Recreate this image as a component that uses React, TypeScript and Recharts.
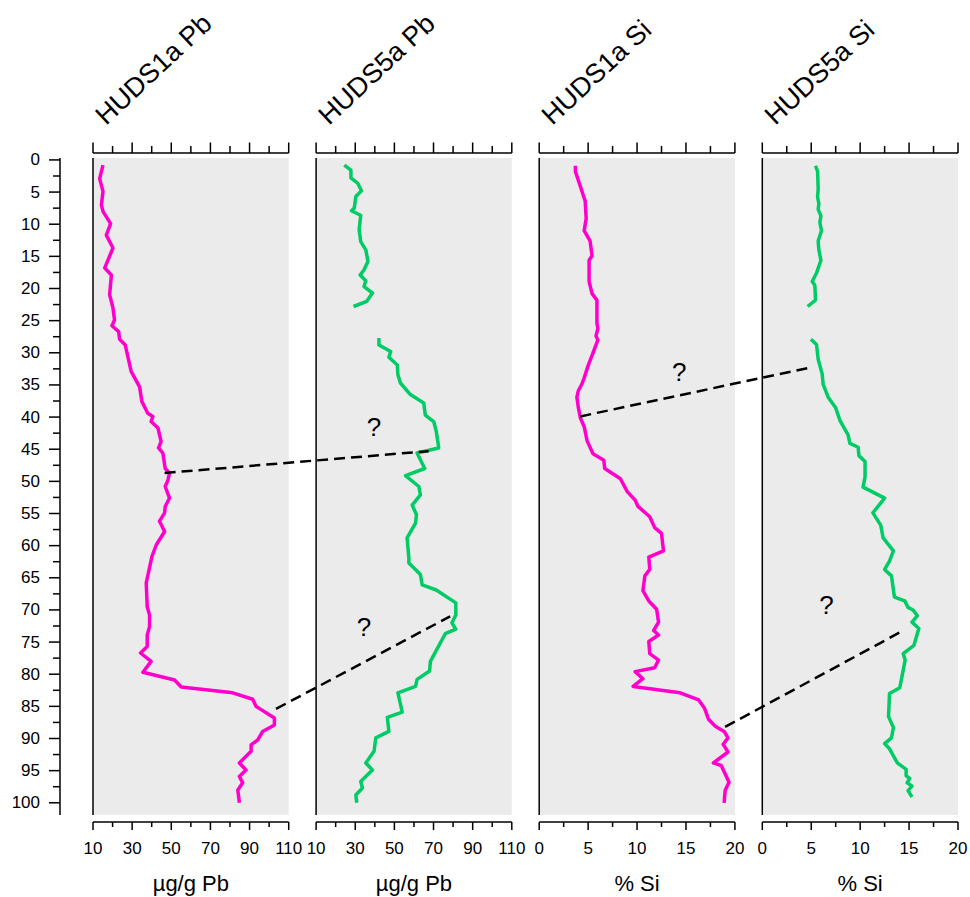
import React from "react";
import { ComposedChart, Line, XAxis, YAxis, ReferenceArea, ReferenceLine, Scatter } from "recharts";

// depth (cm), value
const HUDS1A_PB: [number, number][] = [
  [0.8, 15.1], [2.9, 13.4], [4.9, 15.1], [7, 14.3], [8, 15.1], [9.9, 19], [11.7, 16.8], [13.7, 20.2],
  [16.8, 16], [17.9, 19.4], [21, 18.5], [23, 20.2], [24.9, 21], [25.8, 19.7], [26.7, 23.1], [27.9, 23.6],
  [28.8, 26.5], [32.9, 29.5], [35.3, 33.8], [37.6, 35], [39.4, 38], [39.9, 40.6], [40.7, 39.7], [41.7, 43.2],
  [43.8, 44.8], [44.8, 43.5], [45.6, 45.7], [48, 46.9], [48.7, 49.1], [49.8, 48.3], [50.8, 46.9], [52.6, 49.1],
  [53.9, 46.9], [54.9, 46.6], [56.2, 44], [57.8, 46.6], [59.9, 42.3], [61.7, 40.1], [65.8, 37.2], [69.5, 37.7],
  [70.8, 38.9], [72.6, 38.9], [73.9, 37.7], [75.7, 37.7], [76.7, 34.3], [78, 39.7], [79.7, 35.5], [80.9, 51.7],
  [82, 55.1], [82.9, 81.4], [83.9, 91.6], [85, 93.3], [86.8, 102.7], [87.9, 102.7], [88.9, 96.7], [90.2, 94.2],
  [91, 90.8], [92, 90.8], [93.8, 84.8], [94.9, 88.2], [95.9, 84.8], [96.9, 86.5], [98, 84], [100, 84.8],
];

const HUDS5A_PB_UPPER: [number, number][] = [
  [0.8, 24.4], [1.6, 27.8], [2.8, 27.8], [3.6, 31.2], [4.8, 33.2], [5.7, 30.3], [7.5, 29.5], [7.9, 28.1],
  [8.6, 32.8], [10.9, 32], [12.7, 32.8], [14, 35.4], [15.8, 36.5], [17.1, 34.5], [17.9, 32.5], [18.8, 35.4],
  [19.7, 34.5], [20.7, 38.8], [22, 35.9], [22.8, 29.1],
];

const HUDS5A_PB_LOWER: [number, number][] = [
  [27.7, 42.1], [28.8, 42.1], [29.8, 48.1], [30.7, 47.2], [31.9, 51.5], [33.4, 51.8], [34.7, 53.1], [36.5, 58.2],
  [37.8, 65], [39.7, 65.8], [40.7, 70.1], [42.2, 71.4], [44.6, 72.6], [44.8, 72.6], [45.6, 61.6], [48, 65.5],
  [49.1, 55.7], [50.8, 62.5], [52.1, 63.3], [53.7, 59.1], [55.2, 61.3], [56.5, 60.8], [58.8, 56.5], [61.9, 57.4],
  [62.7, 57.4], [64.5, 63.3], [66.1, 64.2], [66.9, 71.4], [68.9, 81.4], [70.8, 81.4], [72, 79.4], [73, 81.4],
  [73.7, 76], [78, 68.4], [79.5, 68], [80.8, 61.6], [81.9, 60.8], [82.9, 51.8], [85.9, 54], [86.7, 46.4],
  [88.9, 47.2], [89.9, 40.5], [92, 39.6], [93.8, 35.4], [94.9, 38.8], [96.7, 32.8], [97.7, 33.7], [98.8, 30.3],
  [100, 30.8],
];

const HUDS1A_SI: [number, number][] = [
  [0.9, 3.7], [1.8, 3.7], [4.1, 4.2], [6.4, 4.7], [9.1, 4.8], [11, 4.6], [12.6, 5.2], [14.9, 5.4],
  [15.6, 5.1], [18.9, 5.1], [20.8, 5.4], [21.8, 5.9], [25.4, 5.9], [26.2, 6.0], [27.4, 5.8], [28, 6.0],
  [30, 5.5], [32, 5.0], [33.9, 4.6], [34.9, 4.35], [35.9, 4.0], [36.9, 3.85], [38.5, 4.0], [40.1, 4.2],
  [41.5, 4.6], [43.7, 4.9], [45.7, 5.5], [46.7, 6.6], [48, 6.7], [49.6, 8.3], [51.6, 9.0], [52.9, 9.8],
  [53.9, 10.1], [55.5, 11.3], [57.2, 11.8], [58.1, 12.5], [60.8, 12.7], [61.8, 11.2], [63.7, 11.3], [64.7, 10.8],
  [67, 10.6], [68.6, 11.2], [69.9, 12.0], [71.9, 12.2], [73.2, 11.7], [73.9, 12.2], [74.9, 11.2], [76.8, 11.3],
  [77.8, 12.2], [79, 11.8], [79.6, 9.8], [80.7, 10.6], [81.9, 9.6], [82.9, 14.4], [84, 16.3], [85.3, 16.9],
  [87, 17.3], [88.1, 18.0], [88.9, 18.9], [89.9, 19.3], [90.9, 18.8], [92.1, 19.3], [93.8, 17.8], [94.2, 18.6],
  [95.5, 19.0], [96.8, 19.4], [98.1, 19.0], [100, 18.9],
];

const HUDS5A_SI_UPPER: [number, number][] = [
  [0.9, 5.44], [1.8, 5.65], [4.5, 5.71], [5.8, 5.65], [6.8, 5.78], [7.7, 5.71], [8.7, 5.99], [9.7, 5.88],
  [11, 6.05], [12.6, 5.71], [14, 5.78], [15.6, 5.99], [17.6, 5.54], [18.9, 5.1], [19.5, 5.37], [21.8, 5.44],
  [22.8, 4.63],
];

const HUDS5A_SI_LOWER: [number, number][] = [
  [27.9, 4.97], [28.7, 5.54], [31, 5.71], [33.3, 6.12], [34.9, 6.22], [36.9, 6.73], [38.5, 7.48], [40.5, 7.93],
  [42.8, 8.78], [44.1, 8.95], [44.7, 9.8], [46, 9.87], [46.9, 10.5], [49.3, 10.5], [50.9, 10.3], [52.6, 12.5],
  [54.9, 11.3], [56.8, 12.1], [58.8, 12.35], [60.8, 13.4], [62.4, 13], [63.7, 12.5], [64.7, 13.2], [68, 13.5],
  [68.6, 14.56], [69.6, 14.9], [70, 15.4], [70.9, 15.85], [71.9, 15.3], [72.9, 16], [75.5, 15.5], [76.8, 14.4],
  [77.8, 14.6], [82.1, 14.05], [83, 13], [86.6, 12.9], [88.3, 13.4], [89.9, 13.2], [90.8, 12.5], [91.6, 13],
  [93.8, 13.8], [94.8, 14.7], [95.8, 14.7], [96.2, 15.07], [96.9, 14.8], [97.4, 15.3], [98.1, 14.9], [99.1, 15.3],
];

// dashed correlation links: [panel, depth, value]
const LINKS: [number, number, number][][] = [
  [[0, 48.7, 46.6], [1, 45.3, 67.5]],
  [[0, 85.4, 103.5], [1, 71, 78.5]],
  [[2, 39.9, 4.2], [3, 32.3, 4.87]],
  [[2, 88.2, 19.0], [3, 73.5, 14.05]],
];

const QUESTIONS: [number, number, number][] = [
  [1, 41.5, 39.6],
  [1, 72.6, 34.5],
  [2, 33, 14.3],
  [3, 69.3, 6.56],
];

const DEPTH_MAJOR = [0, 5, 10, 15, 20, 25, 30, 35, 40, 45, 50, 55, 60, 65, 70, 75, 80, 85, 90, 95, 100];
const DEPTH_MINOR = [2.5, 7.5, 12.5, 17.5, 22.5, 27.5, 32.5, 37.5, 42.5, 47.5, 52.5, 57.5, 62.5, 67.5, 72.5, 77.5, 82.5, 87.5, 92.5, 97.5];

const PB_MAJOR = [10, 30, 50, 70, 90, 110];
const PB_MINOR = [20, 40, 60, 80, 100];
const SI_MAJOR = [0, 5, 10, 15, 20];
const SI_MINOR = [2.5, 7.5, 12.5, 17.5];

const panels = [
  { title: "HUDS1a Pb", unit: "µg/g Pb", min: 10, max: 110, major: PB_MAJOR, minor: PB_MINOR },
  { title: "HUDS5a Pb", unit: "µg/g Pb", min: 10, max: 110, major: PB_MAJOR, minor: PB_MINOR },
  { title: "HUDS1a Si", unit: "% Si", min: 0, max: 20, major: SI_MAJOR, minor: SI_MINOR },
  { title: "HUDS5a Si", unit: "% Si", min: 0, max: 20, major: SI_MAJOR, minor: SI_MINOR },
];

const MAGENTA = "#ff00cc";
const GREEN = "#00cc66";
const FONT = "'Liberation Sans', Arial, sans-serif";

const W = 970;
const H = 897;
const PLOT_L = 93;
const PLOT_R = 958;
const PLOT_T = 158;
const PLOT_B = 815;
const SPAN = 100;
const STEP = 114;
const X_MAX = STEP * 3 + SPAN;
const PX = (PLOT_R - PLOT_L) / X_MAX;
const DEPTH_DOMAIN = [-0.3, 101.9];
const DEPTH_AXIS_X = 60;
const TOP_AXIS_Y = 153;
const BOT_AXIS_Y = 822;

const toVX = (panel: number, v: number) => {
  const p = panels[panel];
  return panel * STEP + ((v - p.min) * SPAN) / (p.max - p.min);
};

const toPoints = (panel: number, rows: [number, number][]) =>
  rows.map(([depth, v]) => ({ vx: toVX(panel, v), depth }));

const series = [
  { panel: 0, rows: HUDS1A_PB, color: MAGENTA },
  { panel: 1, rows: HUDS5A_PB_UPPER, color: GREEN },
  { panel: 1, rows: HUDS5A_PB_LOWER, color: GREEN },
  { panel: 2, rows: HUDS1A_SI, color: MAGENTA },
  { panel: 3, rows: HUDS5A_SI_UPPER, color: GREEN },
  { panel: 3, rows: HUDS5A_SI_LOWER, color: GREEN },
];

const xTicks = panels
  .flatMap((p, i) => [...p.major, ...p.minor].map((v) => toVX(i, v)))
  .sort((a, b) => a - b);

const locate = (vx: number) => {
  const i = Math.min(3, Math.floor((vx + 0.001) / STEP));
  const p = panels[i];
  const v = p.min + ((vx - i * STEP) * (p.max - p.min)) / SPAN;
  const value = Math.round(v * 100) / 100;
  return { i, p, value, major: p.major.includes(value), first: Math.abs(value - p.min) < 1e-6 };
};

function DepthTick(props: any) {
  const { payload } = props;
  const y = payload.coordinate;
  const v = payload.value;
  const major = DEPTH_MAJOR.includes(v);
  return (
    <g>
      {v === 0 && (
        <line x1={DEPTH_AXIS_X} x2={DEPTH_AXIS_X} y1={PLOT_T} y2={PLOT_B} stroke="#000" strokeWidth={1.5} />
      )}
      <line x1={DEPTH_AXIS_X - (major ? 11 : 7)} x2={DEPTH_AXIS_X} y1={y} y2={y} stroke="#000" strokeWidth={1.5} />
      {major && (
        <text x={40} y={y} textAnchor="end" dominantBaseline="central" fontSize={17} fontFamily={FONT} fill="#000">
          {v}
        </text>
      )}
    </g>
  );
}

function TopTick(props: any) {
  const { payload } = props;
  const x = payload.coordinate;
  const { p, major, first } = locate(payload.value);
  const tx = x + 13;
  const ty = 126;
  return (
    <g>
      {first && <line x1={x} x2={x + SPAN * PX} y1={TOP_AXIS_Y} y2={TOP_AXIS_Y} stroke="#000" strokeWidth={1.5} />}
      <line x1={x} x2={x} y1={TOP_AXIS_Y} y2={TOP_AXIS_Y - (major ? 10.5 : 7)} stroke="#000" strokeWidth={1.5} />
      {first && (
        <text x={tx} y={ty} transform={`rotate(-43 ${tx} ${ty})`} fontSize={27} fontFamily={FONT} fill="#000">
          {p.title}
        </text>
      )}
    </g>
  );
}

function BottomTick(props: any) {
  const { payload } = props;
  const x = payload.coordinate;
  const { p, value, major, first } = locate(payload.value);
  return (
    <g>
      {first && <line x1={x} x2={x + SPAN * PX} y1={BOT_AXIS_Y} y2={BOT_AXIS_Y} stroke="#000" strokeWidth={1.5} />}
      <line x1={x} x2={x} y1={BOT_AXIS_Y} y2={BOT_AXIS_Y + (major ? 8 : 5)} stroke="#000" strokeWidth={1.5} />
      {major && (
        <text x={x} y={848} textAnchor="middle" dominantBaseline="central" fontSize={17} fontFamily={FONT} fill="#000">
          {value}
        </text>
      )}
      {first && (
        <text
          x={x + (SPAN * PX) / 2}
          y={883}
          textAnchor="middle"
          dominantBaseline="central"
          fontSize={22}
          fontFamily={FONT}
          fill="#000"
        >
          {p.unit}
        </text>
      )}
    </g>
  );
}

const QuestionMark = (props: any) => (
  <text
    x={props.cx}
    y={props.cy}
    textAnchor="middle"
    dominantBaseline="central"
    fontSize={26}
    fontFamily={FONT}
    fill="#000"
  >
    ?
  </text>
);

export default function App() {
  const questionPoints = QUESTIONS.map(([panel, depth, v]) => ({ vx: toVX(panel, v), depth }));
  return (
    <div style={{ position: "absolute", left: 0, top: 0, width: W, height: H, background: "#fff" }}>
      <ComposedChart
        width={W}
        height={H}
        margin={{ top: PLOT_T - 5, right: W - PLOT_R, bottom: H - PLOT_B - 7, left: 0 }}
      >
        <XAxis
          xAxisId="top"
          orientation="top"
          type="number"
          dataKey="vx"
          domain={[0, X_MAX]}
          ticks={xTicks}
          interval={0}
          height={5}
          axisLine={false}
          tickLine={false}
          tickSize={0}
          tickMargin={0}
          tick={<TopTick />}
        />
        <XAxis
          xAxisId="bottom"
          orientation="bottom"
          type="number"
          dataKey="vx"
          domain={[0, X_MAX]}
          ticks={xTicks}
          interval={0}
          height={7}
          axisLine={false}
          tickLine={false}
          tickSize={0}
          tickMargin={0}
          tick={<BottomTick />}
        />
        <YAxis
          yAxisId="d"
          type="number"
          dataKey="depth"
          domain={DEPTH_DOMAIN}
          reversed
          ticks={[...DEPTH_MAJOR, ...DEPTH_MINOR]}
          interval={0}
          width={PLOT_L}
          axisLine={false}
          tickLine={false}
          tickSize={0}
          tickMargin={0}
          tick={<DepthTick />}
        />
        {panels.map((p, i) => (
          <ReferenceArea
            key={`bg${i}`}
            xAxisId="bottom"
            yAxisId="d"
            x1={toVX(i, p.min)}
            x2={toVX(i, p.max)}
            y1={DEPTH_DOMAIN[0]}
            y2={DEPTH_DOMAIN[1]}
            fill="#ebebeb"
            fillOpacity={1}
            stroke="none"
          />
        ))}
        {panels.map((p, i) => (
          <ReferenceLine
            key={`ax${i}`}
            xAxisId="bottom"
            yAxisId="d"
            x={toVX(i, p.min)}
            stroke="#000"
            strokeWidth={1.5}
          />
        ))}
        {series.map((s, i) => (
          <Line
            key={`s${i}`}
            xAxisId="bottom"
            yAxisId="d"
            data={toPoints(s.panel, s.rows)}
            dataKey="depth"
            type="linear"
            stroke={s.color}
            strokeWidth={3.5}
            strokeLinejoin="round"
            dot={false}
            activeDot={false}
            isAnimationActive={false}
          />
        ))}
        {LINKS.map((link, i) => (
          <Line
            key={`l${i}`}
            xAxisId="top"
            yAxisId="d"
            data={link.map(([panel, depth, v]) => ({ vx: toVX(panel, v), depth }))}
            dataKey="depth"
            type="linear"
            stroke="#000"
            strokeWidth={2.5}
            strokeDasharray="11 6"
            dot={false}
            activeDot={false}
            isAnimationActive={false}
          />
        ))}
        <Scatter
          xAxisId="top"
          yAxisId="d"
          data={questionPoints}
          dataKey="depth"
          shape={<QuestionMark />}
          isAnimationActive={false}
        />
      </ComposedChart>
    </div>
  );
}
